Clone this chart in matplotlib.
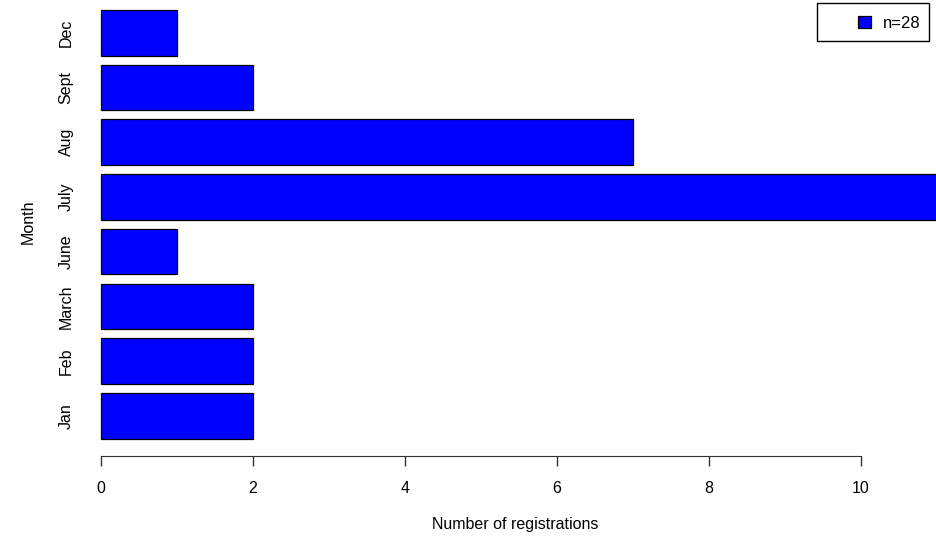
import matplotlib
matplotlib.use("Agg")
import matplotlib.pyplot as plt
from matplotlib.patches import Rectangle

months = ["Jan", "Feb", "March", "June", "July", "Aug", "Sept", "Dec"]
counts = [2, 2, 2, 1, 11, 7, 2, 1]
xticks = [0, 2, 4, 6, 8, 10]
legend_label = "n=28"

plt.rcParams['font.family'] = ['Liberation Sans', 'DejaVu Sans']
FS = 11.5
W, H = 936, 539
fig = plt.figure(figsize=(W / 100, H / 100), dpi=100)

# pixel geometry
x0px, pxu = 101.0, 76.0          # x=0 at px 101, 76 px per unit
left_px = 80.0
right_px = W
y_unit = 45.6                    # px per y unit
y02_px = 438.6                   # y=0.2 at this pixel row
bottom_px = 455.7
top_px = 0.0

ax = fig.add_axes([left_px / W, 1 - bottom_px / H,
                   (right_px - left_px) / W, (bottom_px - top_px) / H])
ax.set_xlim((left_px - x0px) / pxu, (right_px - x0px) / pxu)
ax.set_ylim(0.2 - (bottom_px - y02_px) / y_unit, 0.2 + (y02_px - top_px) / y_unit)

pos = [0.7 + 1.2 * i for i in range(len(months))]
ax.barh(pos, counts, height=1.0, color="#0000FF", edgecolor="black", linewidth=0.9)

for s in ax.spines.values():
    s.set_visible(False)
ax.spines['bottom'].set_visible(True)
ax.spines['bottom'].set_bounds(xticks[0], xticks[-1])
ax.spines['bottom'].set_color("#333333")
ax.set_xticks(xticks)
ax.set_xticklabels([str(t) for t in xticks])
ax.tick_params(axis='x', length=7, width=1, color="#333333", pad=11, labelsize=FS)
ax.set_yticks(pos)
ax.set_yticklabels(months, rotation=90, va='center')
ax.tick_params(axis='y', length=0, pad=4.5, labelsize=FS)

fig.text(515 / W, 1 - 524 / H, "Number of registrations", ha='center', va='center', fontsize=FS)
fig.text(28 / W, 1 - 222 / H, "Month", ha='center', va='center', rotation=90, fontsize=FS)

# legend box (drawn in figure pixel coords)
def fx(px):
    return px / W

def fy(py):
    return 1 - py / H

fig.patches.append(Rectangle((fx(817), fy(41)), fx(929) - fx(817), fy(3) - fy(41),
                             transform=fig.transFigure, facecolor="white",
                             edgecolor="black", linewidth=1.0))
fig.patches.append(Rectangle((fx(858), fy(28)), fx(871) - fx(858), fy(16) - fy(28),
                             transform=fig.transFigure, facecolor="#0000FF",
                             edgecolor="black", linewidth=0.9))
fig.text(fx(883), fy(23.5), legend_label, ha='left', va='center', fontsize=12)

fig.savefig("out.png", dpi=100)
